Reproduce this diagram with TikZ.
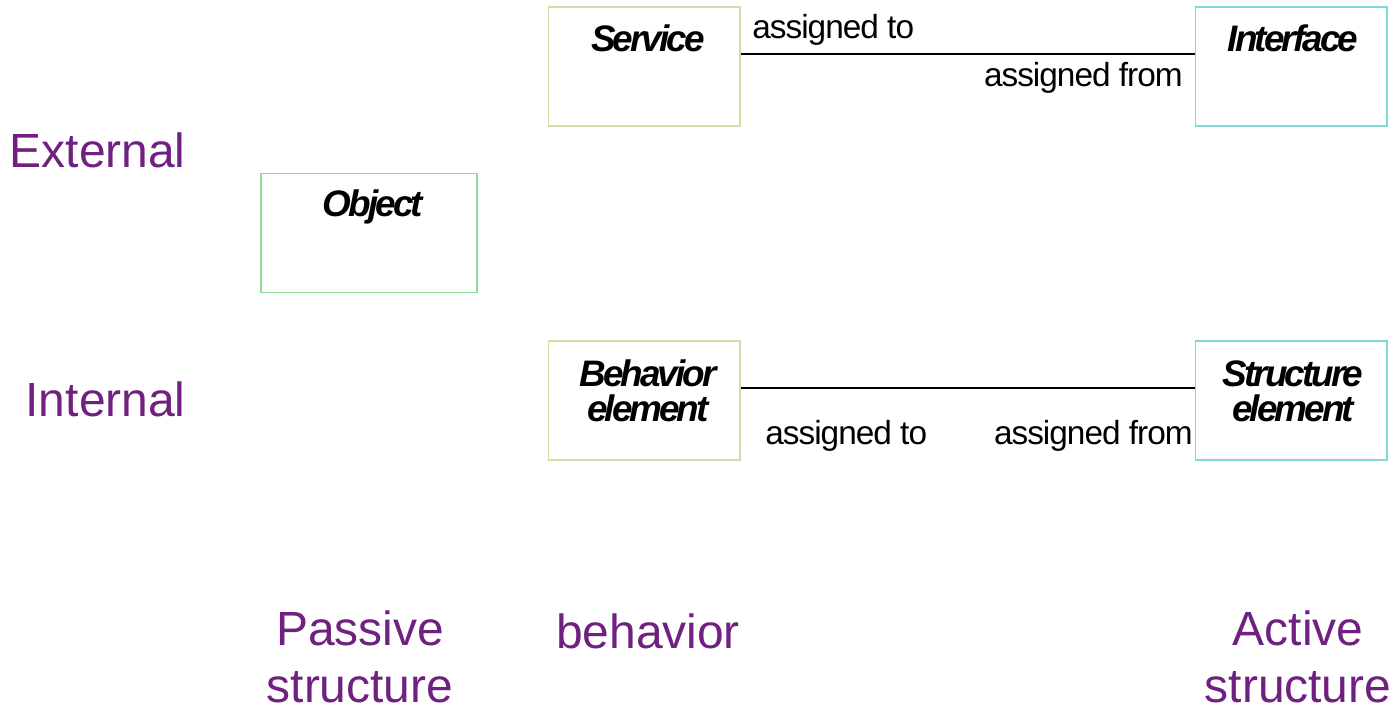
\documentclass[tikz,border=0pt]{standalone}
\usepackage{fontspec}
\setmainfont{Liberation Sans}
\newfontfamily\tightfont[LetterSpace=-3]{Liberation Sans}
\newfontfamily\titlefont[LetterSpace=-8]{Liberation Sans}
\usetikzlibrary{positioning}
\definecolor{viewpurple}{RGB}{112,32,128}
\definecolor{behline}{RGB}{218,218,168}
\definecolor{objline}{RGB}{144,220,144}
\definecolor{actline}{RGB}{128,216,216}
\tikzset{
  elem/.style={draw, line width=0.6pt, minimum width=3.84cm, minimum height=2.38cm, inner sep=0pt},
  ttl/.style={font=\titlefont\fontsize{21}{20}\selectfont\bfseries\itshape, align=center, inner sep=0pt},
  rel/.style={font=\tightfont\fontsize{19}{22}\selectfont, inner sep=0pt},
  axis/.style={font=\fontsize{27.3}{32.4}\selectfont, text=viewpurple, align=center, inner sep=0pt}
}

\begin{document}
\begin{tikzpicture}[x=0.02cm, y=-0.02cm]
		%%%%% START %%%%%
		\useasboundingbox (0, 0) rectangle (1395, 709);
		
		\node[elem, draw=behline] (srv) at (644, 66.5) {};
		\node[elem, draw=actline] (ifc) at (1291, 66.5) {};
		\node[elem, draw=objline, minimum width=4.32cm] (obj) at (369, 233) {};
		\node[elem, draw=behline] (beh) at (644, 400.5) {};
		\node[elem, draw=actline] (str) at (1291, 400.5) {};
		
		\node[ttl] (srvname) at (648, 38) {Service};
		\node[ttl] (ifcname) at (1293, 38) {Interface};
		\node[ttl] (objname) at (373, 207) {Object};
		\node[ttl] (behname) at (648, 391) {Behavior\\element};
		\node[ttl] (strname) at (1293, 391) {Structure\\element};
		
		\draw[line width=0.9pt] ([yshift=0.25cm]srv.east) -- ([yshift=0.25cm]ifc.west);
		\draw[line width=0.9pt] ([yshift=0.25cm]beh.east) -- ([yshift=0.25cm]str.west);
		
		\node[rel, anchor=west] (srvto) at (752, 30) {assigned to};
		\node[rel, anchor=east] (ifcfrom) at (1183, 78) {assigned from};
		\node[rel, anchor=west] (behto) at (765, 436) {assigned to};
		\node[rel, anchor=east] (strfrom) at (1193, 436) {assigned from};
		
		\node[axis, anchor=east] (ext) at (186, 150) {External};
		\node[axis, anchor=east] (int) at (186, 399) {Internal};
		\node[axis] (pas) at (360, 657) {Passive\\structure};
		\node[axis] (bhv) at (648, 631) {behavior};
		\node[axis] (act) at (1298, 657) {Active\\structure};
		%%%%% END %%%%%
	\end{tikzpicture}
\end{document}
